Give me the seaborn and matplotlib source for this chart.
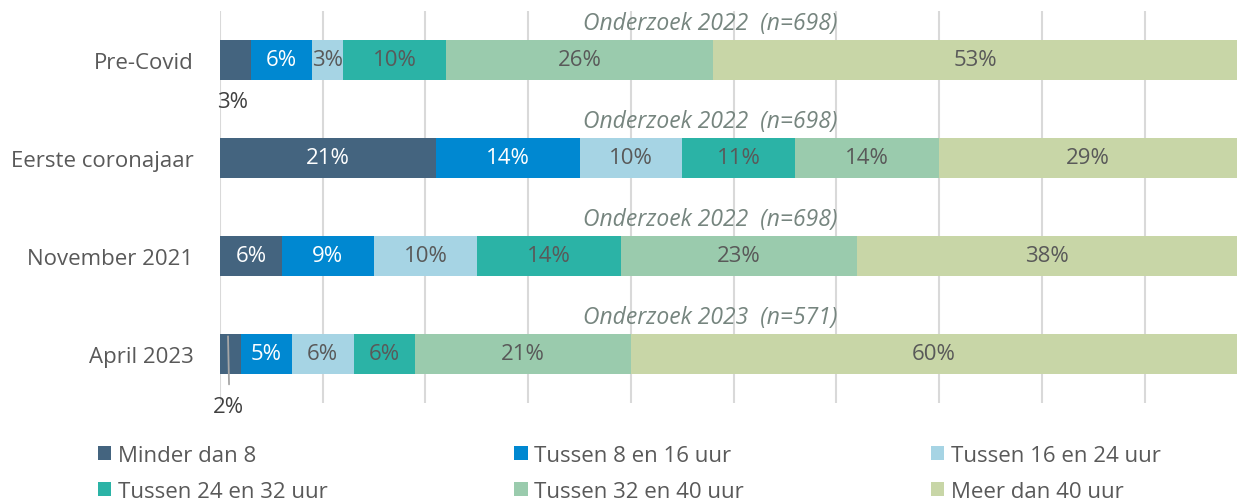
import numpy as np
import pandas as pd
import matplotlib
matplotlib.use("Agg")
import matplotlib.pyplot as plt
from matplotlib.patches import Patch
import seaborn as sns

periods = ["Pre-Covid", "Eerste coronajaar", "November 2021", "April 2023"]
categories = ["Minder dan 8", "Tussen 8 en 16 uur", "Tussen 16 en 24 uur",
              "Tussen 24 en 32 uur", "Tussen 32 en 40 uur", "Meer dan 40 uur"]
minder_dan_8 = [3, 21, 6, 2]
tussen_8_16 = [6, 14, 9, 5]
tussen_16_24 = [3, 10, 10, 6]
tussen_24_32 = [10, 11, 14, 6]
tussen_32_40 = [26, 14, 23, 21]
meer_dan_40 = [53, 29, 38, 60]
survey_notes = ["Onderzoek 2022  (n=698)", "Onderzoek 2022  (n=698)",
                "Onderzoek 2022  (n=698)", "Onderzoek 2023  (n=571)"]

colors = ["#44647f", "#0088d1", "#a6d4e4", "#2bb3a6", "#9acbad", "#c8d6a7"]
label_colors = ["white", "white", "#595959", "#595959", "#595959", "#595959"]

series = [minder_dan_8, tussen_8_16, tussen_16_24, tussen_24_32, tussen_32_40, meer_dan_40]
df = pd.DataFrame({cat: np.array(vals) / 100 for cat, vals in zip(categories, series)})
df.insert(0, "periode", periods)
cum = df[categories].cumsum(axis=1)
starts = cum - df[categories]

sns.set_theme(style="white")
plt.rcParams["font.family"] = ["Open Sans", "DejaVu Sans"]

XMAX = 0.99
fig = plt.figure(figsize=(12.37, 5.02), dpi=100)
ax = fig.add_axes([220 / 1237, 98 / 502, 1017 / 1237, 392 / 502])

# stacked bars: draw cumulative totals from the last segment to the first
for i in range(len(categories) - 1, -1, -1):
    sub = pd.DataFrame({"periode": periods, "cum": cum[categories[i]].values})
    sns.barplot(data=sub, x="cum", y="periode", order=periods, orient="h",
                color=colors[i], saturation=1, width=0.41, ax=ax, zorder=2,
                edgecolor="none", linewidth=0)

# segment labels
small_outside = {(0, 0): (0.012, 0.42), (3, 0): (0.008, 3.54)}
for r, p in enumerate(periods):
    for i, cat in enumerate(categories):
        v = df.loc[r, cat]
        label = f"{round(v * 100):d}%"
        if (r, i) in small_outside:
            x, y = small_outside[(r, i)]
            ax.text(x, y, label, ha="center", va="center", fontsize=16,
                    color="#404040", clip_on=False, zorder=4)
            continue
        xc = starts.loc[r, cat] + v / 2
        xc = min(xc, (starts.loc[r, cat] + XMAX) / 2)
        ax.text(xc, r, label, ha="center", va="center", fontsize=16,
                color=label_colors[i], zorder=4)

# leader line for the smallest April segment
ax.plot([0.0078, 0.0088], [2.82, 3.31], color="#a6a6a6", lw=1.3,
        clip_on=False, zorder=5)

# survey notes above each bar
for r, note in enumerate(survey_notes):
    ax.text(0.477, r - 0.38, note, ha="center", va="center", fontsize=16.5,
            style="italic", color="#76857f", zorder=4)

ax.set_xlim(0, XMAX)
ax.set_ylim(3.5, -0.5)
ax.set_xticks(np.arange(0, 1.0, 0.1))
ax.xaxis.grid(True, color="#d9d9d9", lw=1.5, zorder=0)
ax.yaxis.grid(False)
ax.set_axisbelow(True)
ax.tick_params(axis="x", labelbottom=False, length=0)
ax.tick_params(axis="y", length=0, pad=19, labelsize=16, labelcolor="#595959")
ax.set_xlabel("")
ax.set_ylabel("")
for s in ax.spines.values():
    s.set_visible(False)

handles = [Patch(facecolor=c, edgecolor="none", label=l) for c, l in zip(colors, categories)]
order = [0, 3, 1, 4, 2, 5]
fig.legend([handles[k] for k in order], [categories[k] for k in order],
           ncol=3, loc="upper left", bbox_to_anchor=(98 / 1237, 1 - 446 / 502),
           frameon=False, fontsize=16, labelcolor="#595959",
           handlelength=0.6, handleheight=0.6, handletextpad=0.3,
           columnspacing=8.4, labelspacing=0.68, borderaxespad=0,
           borderpad=0)

fig.savefig("out.png", dpi=100)
